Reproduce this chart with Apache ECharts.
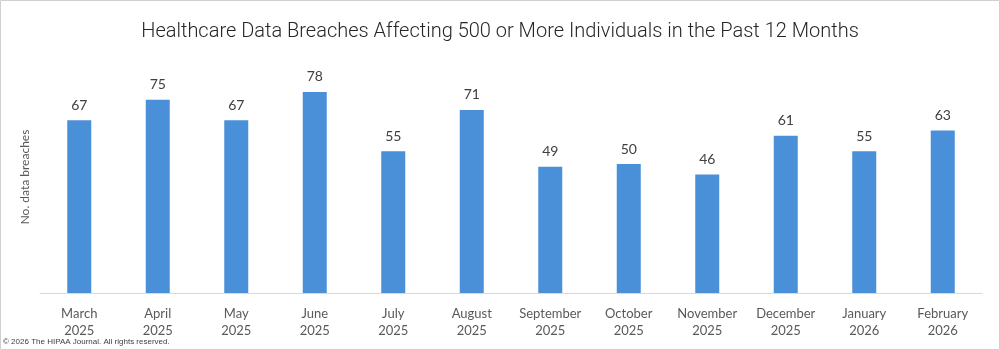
<!DOCTYPE html>
<html>
<head>
<meta charset="utf-8">
<script src="https://cdn.jsdelivr.net/npm/echarts@6/dist/echarts.min.js"></script>
<style>
html,body{margin:0;padding:0;background:#fff;}
#main{width:1000px;height:350px;}
</style>
</head>
<body>
<div id="main"></div>
<script>
var months = ['March\n2025','April\n2025','May\n2025','June\n2025','July\n2025','August\n2025',
    'September\n2025','October\n2025','November\n2025','December\n2025','January\n2026','February\n2026'];
var breaches = [67, 75, 67, 78, 55, 71, 49, 50, 46, 61, 55, 63];

var myChart = echarts.init(document.getElementById('main'));
var option = {
    animation: false,
    title: {
        text: 'Healthcare Data Breaches Affecting 500 or More Individuals in the Past 12 Months',
        left: 'center',
        top: 17,
        textStyle: {
            fontFamily: 'Roboto',
            fontWeight: 300,
            fontSize: 20,
            color: '#262626'
        }
    },
    grid: {
        left: 40,
        right: 18,
        top: 61,
        bottom: 57
    },
    xAxis: {
        type: 'category',
        data: months,
        axisTick: { show: false },
        axisLine: { lineStyle: { color: '#d9d9d9', width: 1 } },
        axisLabel: {
            interval: 0,
            color: '#595959',
            fontFamily: 'Lato',
            fontSize: 13,
            lineHeight: 17,
            margin: 12
        }
    },
    yAxis: {
        type: 'value',
        min: 0,
        max: 90,
        name: 'No. data breaches',
        nameLocation: 'middle',
        nameGap: 9,
        nameTextStyle: {
            color: '#595959',
            fontFamily: 'Lato',
            fontSize: 12
        },
        axisLabel: { show: false },
        axisLine: { show: false },
        axisTick: { show: false },
        splitLine: { show: false }
    },
    series: [{
        type: 'bar',
        data: breaches,
        barWidth: 24,
        itemStyle: { color: '#4a90d9' },
        label: {
            show: true,
            position: 'top',
            distance: 8,
            color: '#404040',
            fontFamily: 'Lato',
            fontSize: 14
        }
    }],
    graphic: [
        {
            type: 'rect',
            shape: { x: 0.5, y: 0.5, width: 999, height: 349 },
            style: { fill: 'none', stroke: '#d0d0d0', lineWidth: 1 }
        },
        {
            type: 'text',
            left: 3,
            top: 338,
            style: {
                text: '\u00a9 2026 The HIPAA Journal. All rights reserved.',
                fill: '#404040',
                font: '8px "Liberation Sans"'
            }
        }
    ]
};
myChart.setOption(option);
</script>
</body>
</html>
